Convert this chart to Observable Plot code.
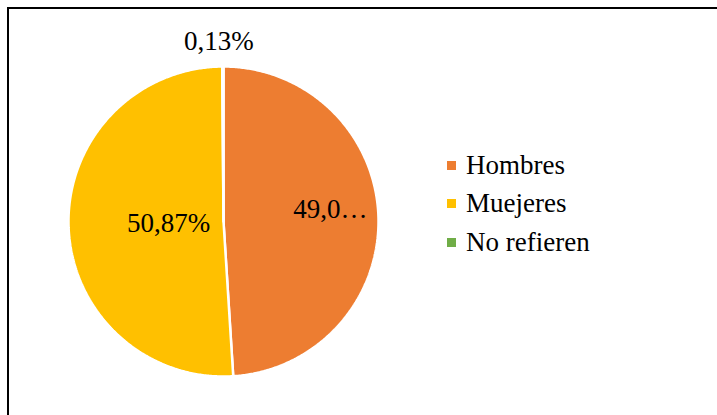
<!DOCTYPE html>
<html>
<head>
<meta charset="utf-8">
<script src="https://cdn.jsdelivr.net/npm/d3@7"></script>
<script src="https://cdn.jsdelivr.net/npm/@observablehq/plot@0.6"></script>
<style>
  html, body { margin: 0; padding: 0; background: #fff; overflow: hidden; }
  #wrap { position: relative; width: 717px; height: 415px; overflow: hidden; }
  #border { position: absolute; left: 7px; top: 7px; width: 800px; height: 500px; border: 2px solid #000; pointer-events: none; }
  #legend { position: absolute; left: 447px; top: 146px; font-family: "Liberation Serif", Tinos, "Times New Roman", Times, "DejaVu Serif", serif; font-size: 27px; color: #000; }
  #legend .row { display: flex; align-items: center; height: 38.5px; }
  #legend .sw { width: 9px; height: 9px; margin-right: 10px; }
  svg text { font-family: "Liberation Serif", Tinos, "Times New Roman", Times, "DejaVu Serif", serif; }
</style>
</head>
<body>
<div id="wrap">
  <div id="chart"></div>
  <div id="legend"></div>
  <div id="border"></div>
</div>
<script>
const categories = ["Hombres", "Muejeres", "No refieren"];
const values = [49.00, 50.87, 0.13];
const labels = ["49,0…", "50,87%", "0,13%"];
const colors = ["#ED7D31", "#FFC000", "#70AD47"];

const W = 717, H = 415;
const cx = 223, cy = 221, R = 155;
const FONT = "Liberation Serif, Tinos, Times New Roman, Times, DejaVu Serif, serif";

// slices as polygons in unit coordinates (clockwise from 12 o'clock)
const total = d3.sum(values);
let acc = 0;
const slices = values.map((v, i) => {
  const a0 = acc / total * 2 * Math.PI;
  acc += v;
  const a1 = acc / total * 2 * Math.PI;
  return {cat: categories[i], a0, a1, label: labels[i]};
});
const pts = [];
for (const s of slices) {
  pts.push({cat: s.cat, x: 0, y: 0});
  const n = Math.max(2, Math.ceil((s.a1 - s.a0) / (Math.PI / 360)));
  for (let k = 0; k <= n; k++) {
    const a = s.a0 + (s.a1 - s.a0) * k / n;
    pts.push({cat: s.cat, x: Math.sin(a), y: Math.cos(a)});
  }
  pts.push({cat: s.cat, x: 0, y: 0});
}
// label placement (Excel best-fit approximation)
const labelR = [0.69, 0.355, 1.16];
const labelDx = [0, 0, -4];
const labelDy = [-9, 0, 0];
const labelPts = slices.map((s, i) => {
  const m = (s.a0 + s.a1) / 2;
  return {x: labelR[i] * Math.sin(m), y: labelR[i] * Math.cos(m), label: s.label, i};
});

const chart = Plot.plot({
  width: W, height: H,
  margin: 0,
  x: {domain: [-cx / R, (W - cx) / R], axis: null},
  y: {domain: [-(H - cy) / R, cy / R], axis: null},
  color: {domain: categories, range: colors},
  style: {fontFamily: FONT, background: "white"},
  marks: [
    Plot.line(pts, {x: "x", y: "y", z: "cat", fill: "cat", stroke: "white", strokeWidth: 2.5, strokeLinejoin: "miter", curve: "linear"}),
    ...labelPts.map(d => Plot.text([d], {x: "x", y: "y", text: "label", fontSize: 27, fontFamily: FONT, fill: "#000", dx: labelDx[d.i], dy: labelDy[d.i]}))
  ]
});
document.getElementById("chart").appendChild(chart);

const legend = document.getElementById("legend");
categories.forEach((c, i) => {
  const row = document.createElement("div");
  row.className = "row";
  const sw = document.createElement("div");
  sw.className = "sw";
  sw.style.background = colors[i];
  const t = document.createElement("span");
  t.textContent = c;
  row.appendChild(sw);
  row.appendChild(t);
  legend.appendChild(row);
});
</script>
</body>
</html>
